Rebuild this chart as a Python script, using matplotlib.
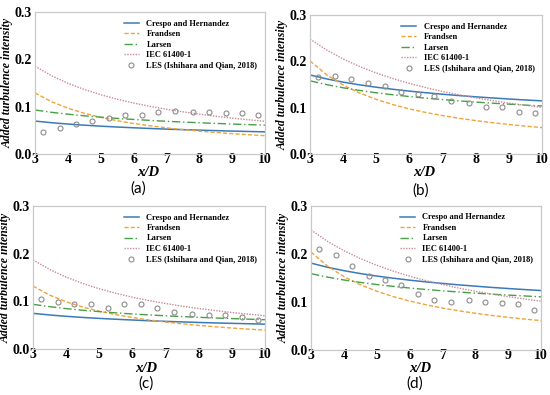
import matplotlib
matplotlib.use("Agg")
import matplotlib.pyplot as plt

plt.rcParams['font.family'] = ['Liberation Serif', 'DejaVu Serif']

x_model = [3, 3.5, 4, 4.5, 5, 5.5, 6, 6.5, 7, 7.5, 8, 8.5, 9, 9.5, 10]
x_les = [3.25, 3.75, 4.25, 4.75, 5.25, 5.75, 6.25, 6.75, 7.25, 7.8, 8.3, 8.8, 9.3, 9.8]

# Panel (a)
crespo_a = [0.0696, 0.0661, 0.0633, 0.0609, 0.0588, 0.0570, 0.0554, 0.0539, 0.0526, 0.0514, 0.0504, 0.0494, 0.0484, 0.0476, 0.0468]
frandsen_a = [0.129, 0.1106, 0.0968, 0.0860, 0.0774, 0.0704, 0.0645, 0.0595, 0.0553, 0.0516, 0.0484, 0.0455, 0.0430, 0.0407, 0.0387]
larsen_a = [0.093, 0.0881, 0.0841, 0.0807, 0.0778, 0.0752, 0.0730, 0.0710, 0.0691, 0.0675, 0.0660, 0.0646, 0.0633, 0.0621, 0.0610]
iec_a = [0.1855, 0.1656, 0.1495, 0.1363, 0.1252, 0.1158, 0.1077, 0.1007, 0.0945, 0.0891, 0.0842, 0.0798, 0.0759, 0.0723, 0.0691]
les_a = [0.047, 0.054, 0.0625, 0.070, 0.077, 0.0815, 0.083, 0.0885, 0.0905, 0.0885, 0.0885, 0.087, 0.086, 0.083]

# Panel (b)
crespo_b = [0.1706, 0.1621, 0.1551, 0.1492, 0.1441, 0.1397, 0.1357, 0.1322, 0.1290, 0.1261, 0.1234, 0.1210, 0.1187, 0.1166, 0.1147]
frandsen_b = [0.201, 0.1711, 0.1488, 0.1315, 0.1178, 0.1066, 0.0973, 0.0895, 0.0829, 0.0771, 0.0721, 0.0676, 0.0637, 0.0602, 0.0570]
larsen_b = [0.158, 0.1497, 0.1429, 0.1371, 0.1321, 0.1278, 0.1240, 0.1205, 0.1175, 0.1146, 0.1121, 0.1097, 0.1076, 0.1055, 0.1037]
iec_b = [0.248, 0.2245, 0.2051, 0.1888, 0.1748, 0.1628, 0.1523, 0.1431, 0.1350, 0.1277, 0.1212, 0.1153, 0.1099, 0.1051, 0.1006]
les_b = [0.1656, 0.168, 0.1615, 0.1526, 0.147, 0.134, 0.130, 0.126, 0.115, 0.1094, 0.1008, 0.1008, 0.0914, 0.0892]

# Panel (c)
crespo_c = [0.0748, 0.0714, 0.0686, 0.0662, 0.0642, 0.0624, 0.0608, 0.0593, 0.0580, 0.0568, 0.0557, 0.0547, 0.0538, 0.0530, 0.0521]
frandsen_c = [0.132, 0.1131, 0.0990, 0.0880, 0.0792, 0.0720, 0.0660, 0.0609, 0.0566, 0.0528, 0.0495, 0.0466, 0.0440, 0.0417, 0.0396]
larsen_c = [0.0937, 0.0888, 0.0847, 0.0813, 0.0784, 0.0758, 0.0735, 0.0715, 0.0697, 0.0680, 0.0665, 0.0651, 0.0638, 0.0626, 0.0615]
iec_c = [0.187, 0.1669, 0.1508, 0.1375, 0.1263, 0.1169, 0.1087, 0.1016, 0.0954, 0.0899, 0.0850, 0.0806, 0.0766, 0.0731, 0.0698]
les_c = [0.104, 0.098, 0.094, 0.094, 0.085, 0.094, 0.094, 0.085, 0.077, 0.074, 0.072, 0.072, 0.068, 0.060]

# Panel (d)
crespo_d = [0.181, 0.1724, 0.1653, 0.1593, 0.1541, 0.1496, 0.1455, 0.1419, 0.1387, 0.1357, 0.1330, 0.1304, 0.1281, 0.1259, 0.1239]
frandsen_d = [0.204, 0.1749, 0.1530, 0.1360, 0.1224, 0.1113, 0.1020, 0.0942, 0.0874, 0.0816, 0.0765, 0.0720, 0.0680, 0.0644, 0.0612]
larsen_d = [0.159, 0.1518, 0.1459, 0.1408, 0.1364, 0.1326, 0.1291, 0.1261, 0.1233, 0.1208, 0.1185, 0.1163, 0.1144, 0.1126, 0.1108]
iec_d = [0.25, 0.2264, 0.2069, 0.1905, 0.1765, 0.1644, 0.1538, 0.1446, 0.1364, 0.1290, 0.1224, 0.1165, 0.1111, 0.1062, 0.1017]
les_d = [0.210, 0.198, 0.175, 0.1535, 0.1465, 0.1347, 0.117, 0.104, 0.100, 0.1035, 0.100, 0.0986, 0.096, 0.0826]

labels = ["Crespo and Hernandez", "Frandsen", "Larsen", "IEC 61400-1", "LES (Ishihara and Qian, 2018)"]
panel_tags = ["(a)", "(b)", "(c)", "(d)"]
x_ticks = [3, 4, 5, 6, 7, 8, 9, 10]
y_ticks = [0.0, 0.1, 0.2, 0.3]

panels = [
    (crespo_a, frandsen_a, larsen_a, iec_a, les_a),
    (crespo_b, frandsen_b, larsen_b, iec_b, les_b),
    (crespo_c, frandsen_c, larsen_c, iec_c, les_c),
    (crespo_d, frandsen_d, larsen_d, iec_d, les_d),
]

# pixel boxes: left, right, top, bottom
boxes = [(35, 265, 12, 154), (310, 542, 15, 154), (33, 265, 206, 349), (311, 541, 206, 350)]
tag_pos = [(138, 189), (421, 191), (146, 384), (415, 384)]
xlab_pos = [(148, 172), (424, 172), (146, 369), (420, 368)]

W, H = 550, 395
fig = plt.figure(figsize=(5.5, 3.95), dpi=100)

c_blue = '#3a7ab8'
c_orange = '#f0a43a'
c_green = '#46a046'
c_pink = '#c98a94'
c_gray = '#8c8c8c'

for i, (data, box) in enumerate(zip(panels, boxes)):
    l, r, t, b = box
    ax = fig.add_axes([l / W, 1 - b / H, (r - l) / W, (b - t) / H])
    cr, fr, la, ie, le = data
    ax.plot(x_model, cr, color=c_blue, lw=1.1, ls='-', label=labels[0])
    ax.plot(x_model, fr, color=c_orange, lw=1.0, ls=(0, (3, 1.5)), label=labels[1])
    ax.plot(x_model, la, color=c_green, lw=1.0, ls=(0, (6, 2, 1, 2)), label=labels[2])
    ax.plot(x_model, ie, color=c_pink, lw=1.0, ls=(0, (1, 1)), label=labels[3])
    ax.plot(x_les, le, ls='none', marker='o', ms=3.6, mfc='none', mec=c_gray, mew=0.8, label=labels[4])
    ax.set_xlim(3, 10)
    ax.set_ylim(0, 0.3)
    ax.set_xticks(x_ticks)
    ax.set_yticks(y_ticks)
    ax.set_xticklabels([str(v) for v in x_ticks], fontweight='bold', fontsize=10)
    ax.set_yticklabels([f"{v:.1f}" for v in y_ticks], fontweight='bold', fontsize=10)
    ax.tick_params(axis='x', length=0, pad=-1)
    ax.tick_params(axis='y', length=0, pad=2)
    for s in ax.spines.values():
        s.set_color('#c8c8c8')
        s.set_linewidth(0.9)
    ax.set_ylabel("Added turbulence intensity", fontweight='bold', fontstyle='italic', fontsize=8.5, labelpad=1)
    ax.legend(loc='upper right', frameon=False, prop={'weight': 'bold', 'size': 6},
              handlelength=1.9, handletextpad=0.85, labelspacing=0.3, borderaxespad=0.5)
    xx, xy = xlab_pos[i]
    fig.text(xx / W, 1 - xy / H, "x/D", ha='center', va='center', fontsize=10.5,
             fontweight='bold', fontstyle='italic')
    tx, ty = tag_pos[i]
    fig.text(tx / W, 1 - ty / H, panel_tags[i], ha='center', va='center', fontsize=11,
             family=['Lato', 'DejaVu Sans'])

fig.savefig("out.png", dpi=100)
